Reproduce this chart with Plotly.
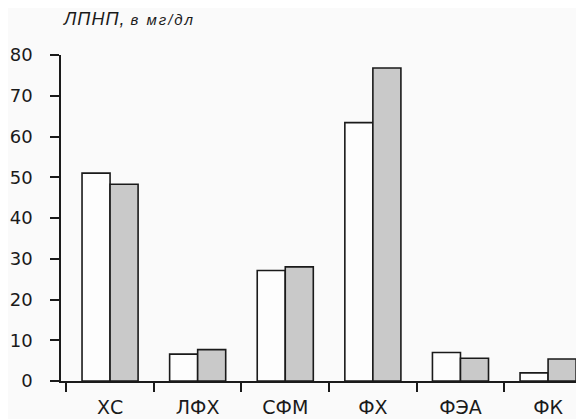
import plotly.graph_objects as go

categories = ["ХС", "ЛФХ", "СФМ", "ФХ", "ФЭА", "ФК"]
series_white = [51, 6.6, 27.1, 63.4, 7.0, 2.0]
series_grey = [48.3, 7.7, 28.0, 76.8, 5.6, 5.4]
y_ticks = [0, 10, 20, 30, 40, 50, 60, 70, 80]
title_text = ("<i><span style='letter-spacing:1px'>ЛПНП,</span> "
              "<span style='font-size:15px;letter-spacing:2px'>в мг/дл</span></i>")

fig = go.Figure()
fig.add_trace(go.Bar(x=categories, y=series_white, marker=dict(color="#fdfdfd", line=dict(color="#1a1a1a", width=1.6)), showlegend=False))
fig.add_trace(go.Bar(x=categories, y=series_grey, marker=dict(color="#c9c9c9", line=dict(color="#1a1a1a", width=1.6)), showlegend=False))

fig.update_layout(
    width=576, height=411,
    margin=dict(l=53, r=0, t=47, b=37.5),
    paper_bgcolor="#fafafa", plot_bgcolor="#fafafa",
    barmode="group", bargap=0.36, bargroupgap=0,
    font=dict(family="DejaVu Sans", color="#1a1a1a"),
    annotations=[dict(text=title_text, xref="paper", yref="paper", x=0, y=1, xanchor="left", yanchor="middle", yshift=36, showarrow=False, font=dict(family="Liberation Sans", size=18, color="#1a1a1a"))],
)
fig.update_xaxes(
    type="category", range=[-0.56, 5.41], showline=True, linecolor="#1a1a1a", linewidth=1.5,
    ticks="outside", tickson="boundaries", ticklen=9, tickwidth=1.5, tickcolor="#1a1a1a",
    ticklabelstandoff=8, automargin=False,
    showgrid=False, zeroline=False, tickfont=dict(size=19),
)
fig.update_yaxes(
    range=[0, 80], tickvals=y_ticks, showline=True, linecolor="#1a1a1a", linewidth=1.5,
    ticks="outside", ticklen=9, tickwidth=1.5, tickcolor="#1a1a1a", ticklabelstandoff=14,
    automargin=False,
    showgrid=False, zeroline=False, tickfont=dict(size=18),
)
fig.write_html("out.html")
